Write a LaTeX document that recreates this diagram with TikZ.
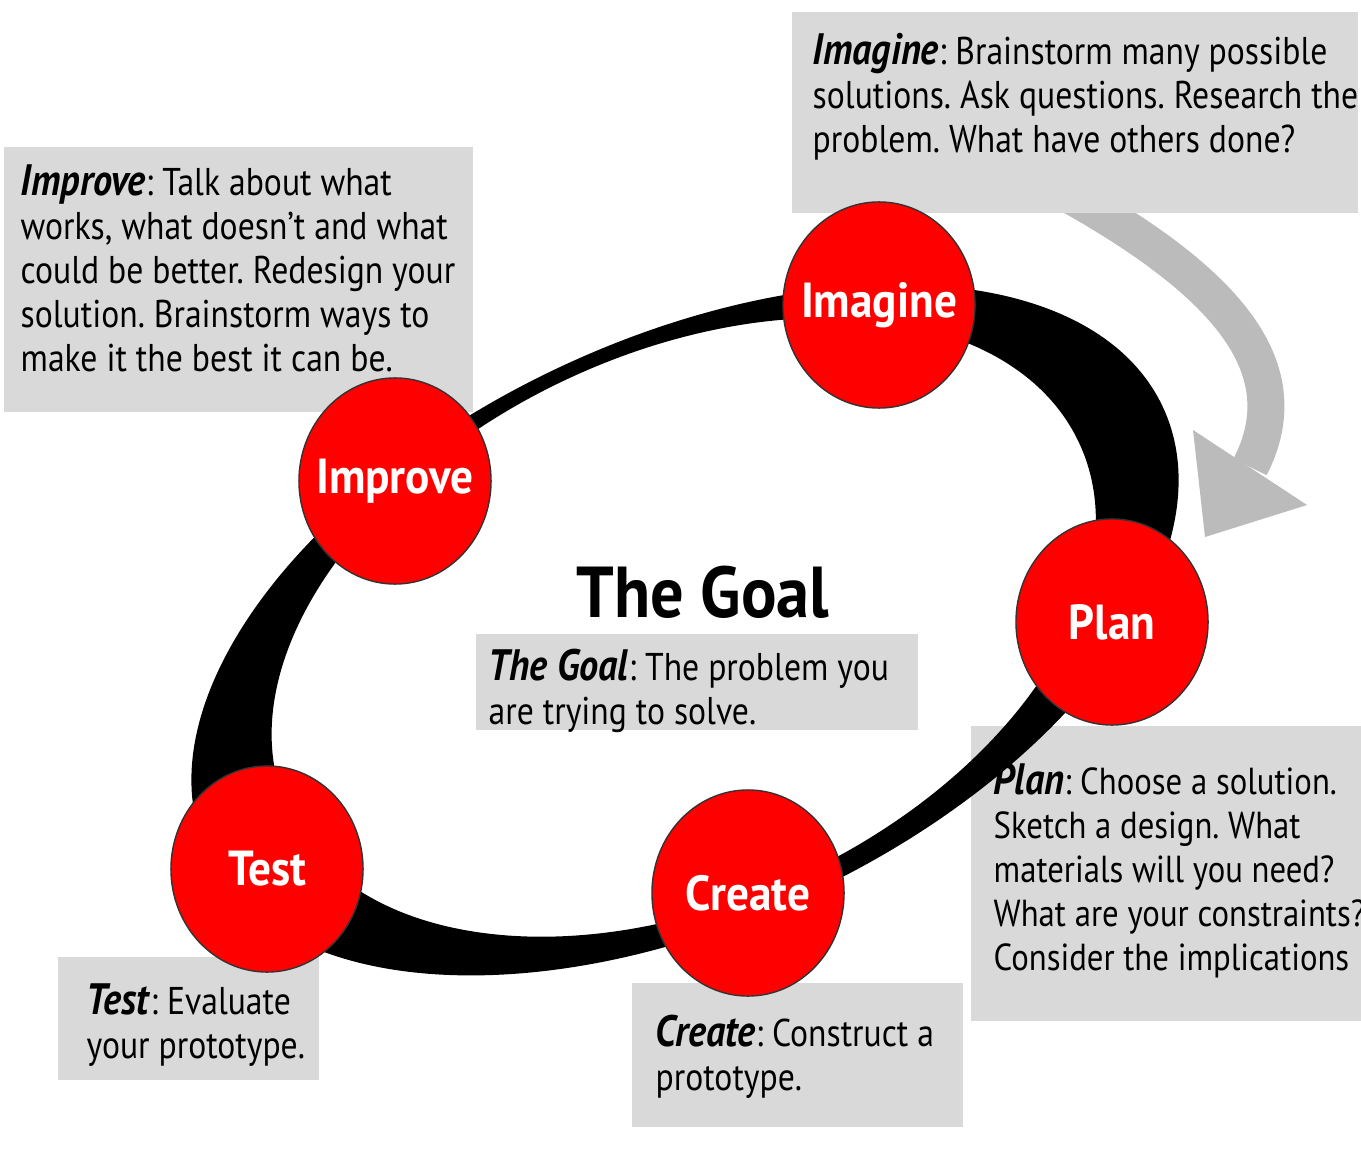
\documentclass[tikz,border=0pt]{standalone}
\usepackage{fontspec}
\setmainfont{PT Sans}[FakeStretch=0.87]
\newfontfamily\labelfont{PT Sans}[FakeStretch=0.92]
\usetikzlibrary{shapes.geometric}
\definecolor{boxgray}{HTML}{D9D9D9}
\definecolor{arrowgray}{HTML}{BBBBBB}
\definecolor{stagered}{HTML}{FF0000}
\newcommand{\keyword}[1]{{\fontsize{12.5}{12.5}\selectfont\textbf{\textit{#1}}}}

\begin{document}
\frenchspacing
\begin{tikzpicture}[x=0.01cm, y=-0.01cm,
    stage/.style={ellipse, draw=black!80, thin, fill=stagered, minimum width=1.92cm, minimum height=2.06cm, inner sep=0pt},
    stagelabel/.style={text=white, font=\labelfont\bfseries\fontsize{14}{16}\selectfont},
    boxtext/.style={anchor=north west, inner sep=0pt, align=left, font=\fontsize{11}{12.5}\selectfont}]
    \useasboundingbox (0,0) rectangle (1361,1149);

    % Turning arrow
    \fill[arrowgray] (1193,430) -- (1307,505) -- (1205,537) -- cycle;
    \draw[arrowgray, line width=0.37cm] (1070,195) .. controls (1230,285) and (1300,370) .. (1250,467);

    % Grey boxes
    \fill[boxgray] (792,12) rectangle (1358,213);
    \fill[boxgray] (4,147) rectangle (473,412);
    \fill[boxgray] (476,634) rectangle (918,730);
    \fill[boxgray] (971,726) rectangle (1361,1021);
    \fill[boxgray] (58,957) rectangle (319,1080);
    \fill[boxgray] (632,983) rectangle (963,1127);

    % Ring
    \fill[even odd rule, rotate around={25:(685,630)}]
        (685,630) ellipse [x radius=5.27cm, y radius=2.91cm]
        (685,627) ellipse [x radius=4.36cm, y radius=2.74cm];

    % Stages
    \node[stage] (imagine) at (879,305) {};
    \node[stage] (improve) at (395,481) {};
    \node[stage] (plan) at (1112,622) {};
    \node[stage] (test) at (267,869) {};
    \node[stage] (create) at (748,893) {};
    \node[stagelabel] (imaginelabel) at (imagine) {Imagine};
    \node[stagelabel] (improvelabel) at (improve) {Improve};
    \node[stagelabel] (planlabel) at (plan) {Plan};
    \node[stagelabel] (testlabel) at (test) {Test};
    \node[stagelabel] (createlabel) at (create) {Create};

    % Goal
    \node[font=\labelfont\bfseries\fontsize{20.5}{22}\selectfont] (goal) at (703,592) {The Goal};

    % Descriptions
    \node[boxtext] (imaginetext) at (812,33) {\keyword{Imagine}: Brainstorm many possible\\solutions. Ask questions. Research the\\problem. What have others done?};
    \node[boxtext] (improvetext) at (20,164) {\keyword{Improve}: Talk about what\\works, what doesn’t and what\\could be better. Redesign your\\solution. Brainstorm ways to\\make it the best it can be.};
    \node[boxtext] (goaltext) at (488,648) {\keyword{The Goal}: The problem you\\are trying to solve.};
    \node[boxtext, font=\fontsize{10.7}{12.5}\selectfont] (plantext) at (993,763) {\keyword{Plan}: Choose a solution.\\Sketch a design. What\\materials will you need?\\What are your constraints?\\Consider the implications};
    \node[boxtext] (testtext) at (86,983) {\keyword{Test}: Evaluate\\your prototype.};
    \node[boxtext] (createtext) at (655,1014) {\keyword{Create}: Construct a\\prototype.};
\end{tikzpicture}
\end{document}
